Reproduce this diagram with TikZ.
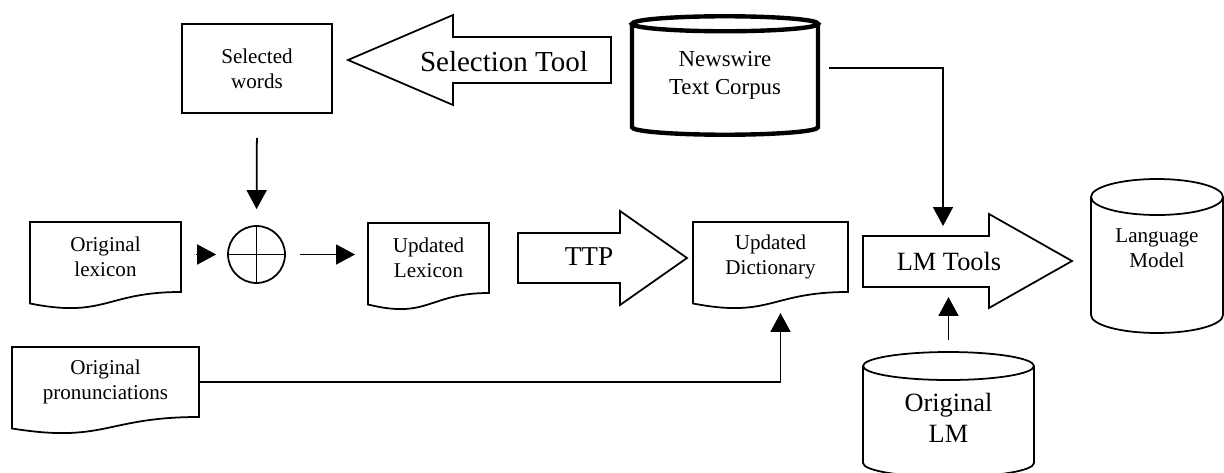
\documentclass[tikz,border=0pt]{standalone}
\usepackage{fontspec}
\setmainfont{Liberation Serif}
\usetikzlibrary{positioning, arrows.meta, calc}

\newcommand{\txtsize}[1]{\fontsize{#1}{1.2\dimexpr#1pt\relax}\selectfont}

\tikzset{
  flow/.style={line width=1pt},
  arr/.style={flow, -{Triangle[length=0.38cm, width=0.4cm]}},
  doc/.style={minimum width=#1, minimum height=1.4cm, inner sep=0pt, outer sep=0pt, align=center, font=\txtsize{12}},
  can/.style={inner sep=0pt, outer sep=0pt, align=center},
  fatarrow/.style={flow, line join=miter}
}

% document symbol drawn round a doc node
\newcommand{\docoutline}[1]{%
  \draw[flow] (#1.north west) -- (#1.north east) -- (#1.south east)
    .. controls (#1.south) and ([yshift=-0.53cm]#1.south) .. ([yshift=-0.23cm]#1.south west) -- cycle;}

% drum drawn round a can node: [style]{node}{ellipse radius}{shift}
\newcommand{\canoutline}[4][flow]{%
  \draw[#1] let \p1 = ($(#2.east)-(#2.west)$) in
    ([yshift=#4]#2.north west) -- ([yshift=#4]#2.south west)
    arc[start angle=180, end angle=360, x radius=0.5*\x1, y radius=#3]
    -- ([yshift=#4]#2.north east)
    ([yshift=#4]#2.north) ellipse[x radius=0.5*\x1, y radius=#3];}

\begin{document}
\begin{tikzpicture}[x=0.02cm, y=-0.02cm]
  \useasboundingbox (0,0) rectangle (1224,473);

  % top row
  \node[draw, flow, minimum width=3cm, minimum height=1.78cm, align=center, font=\txtsize{12}] (selwords) at (257,68.5) {Selected\\words};
  \draw[fatarrow] (611,37) -- (453,37) -- (453,15) -- (348,60) -- (453,105) -- (453,83) -- (611,83) -- cycle;
  \node[font=\txtsize{16.5}] (seltool) at (504,62) {Selection Tool};
  \node[can, minimum width=3.72cm, minimum height=2.07cm, font=\txtsize{13}] (news) at (725,75.5) {Newswire\\Text Corpus};
  \canoutline[flow, line width=2.5pt]{news}{0.15cm}{0cm}

  % middle row
  \node[doc=3.02cm] (origlex) at (105.5,257) {Original\\lexicon};
  \docoutline{origlex}
  \node[circle, draw, flow, minimum size=1.14cm, inner sep=0pt,
    path picture={\draw[flow] (path picture bounding box.north) -- (path picture bounding box.south)
      (path picture bounding box.west) -- (path picture bounding box.east);}] (merge) at (256.5,254.5) {};
  \node[doc=2.42cm] (updlex) at (428.5,258) {Updated\\Lexicon};
  \docoutline{updlex}
  \draw[fatarrow] (518,233) -- (620,233) -- (620,211) -- (687,258) -- (620,305) -- (620,283) -- (518,283) -- cycle;
  \node[font=\txtsize{15.5}] (ttp) at (589,257) {TTP};
  \node[doc=3.1cm] (upddict) at (770.5,257) {Updated\\Dictionary};
  \docoutline{upddict}
  \draw[fatarrow] (863,236) -- (989,236) -- (989,214) -- (1072,261) -- (989,308) -- (989,287) -- (863,287) -- cycle;
  \node[font=\txtsize{15}] (lmtools) at (949,261) {LM Tools};
  \coordinate (lmtop) at (943,236);
  \coordinate (lmbot) at (946,287);
  \node[can, minimum width=2.64cm, minimum height=2.36cm, font=\txtsize{12}] (lm) at (1157,248) {Language\\Model};
  \canoutline{lm}{0.36cm}{-0.16cm}

  % bottom row
  \node[doc=3.74cm] (origpron) at (105.5,382) {Original\\pronunciations};
  \docoutline{origpron}
  \node[can, minimum width=3.42cm, minimum height=1.94cm, font=\txtsize{15}] (origlm) at (948.5,418) {Original\\LM};
  \canoutline{origlm}{0.28cm}{0.07cm}

  % connectors
  \draw[arr, shorten <=0.22cm, shorten >=0.2cm] ([yshift=0.15cm]news.east) -| (lmtop);
  \draw[arr, shorten <=0.48cm, shorten >=0.32cm] (selwords.south) -- (merge.north);
  \draw[arr, shorten <=0.3cm, shorten >=0.22cm] (origlex.east |- merge.west) -- (merge.west);
  \draw[arr, shorten <=0.28cm, shorten >=0.26cm] (merge.east) -- (updlex.west |- merge.east);
  \draw[arr, shorten <=0.59cm, shorten >=0.2cm] (origlm.north) -- (origlm.north |- lmbot);
  \draw[arr] (origpron.east) -| ([xshift=0.2cm, yshift=-0.42cm]upddict.south);
\end{tikzpicture}
\end{document}
